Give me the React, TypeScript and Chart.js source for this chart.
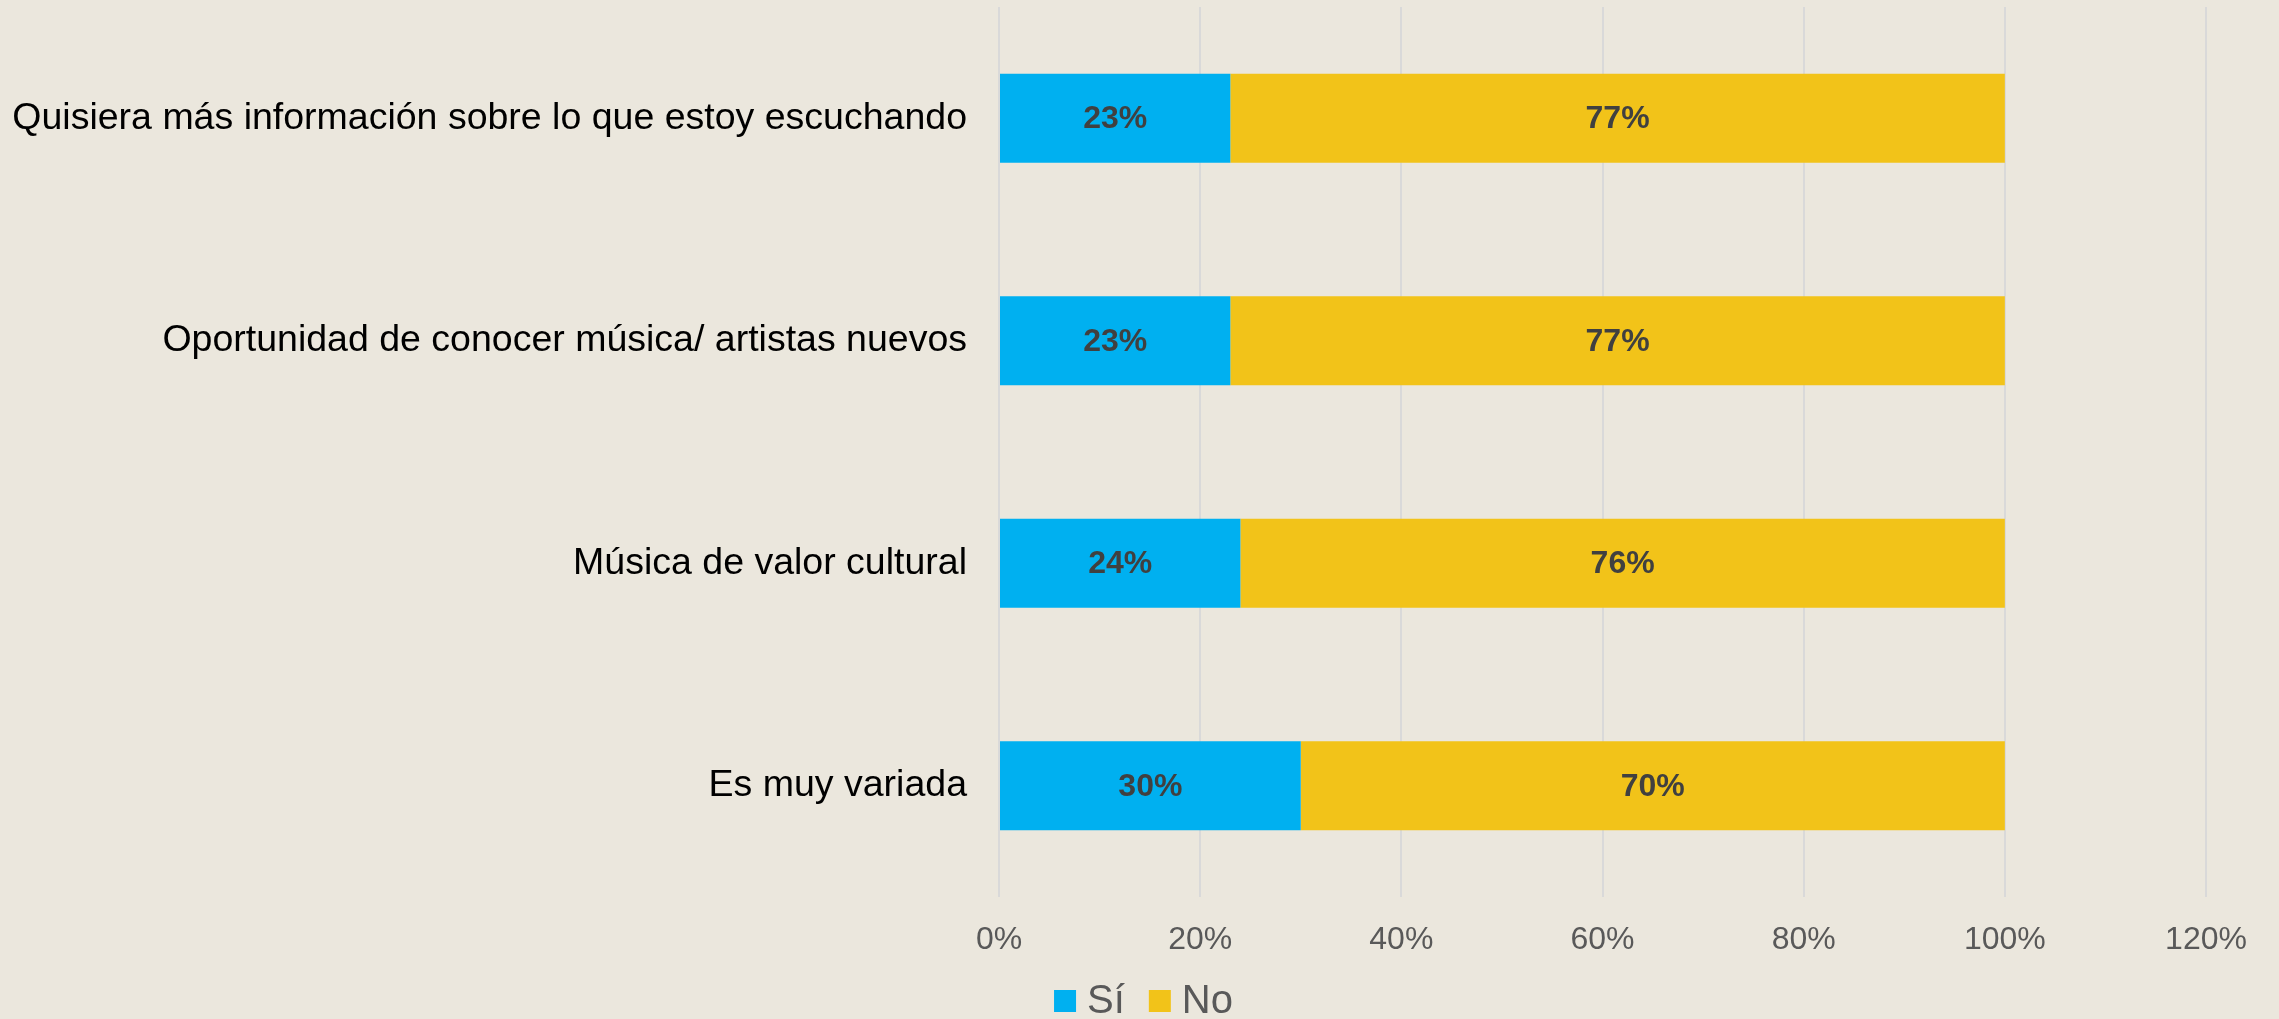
import React, { useEffect, useRef } from "react";
import { Chart, registerables } from "chart.js";

Chart.register(...registerables);

const categories = [
  "Quisiera más información sobre lo que estoy escuchando",
  "Oportunidad de conocer música/ artistas nuevos",
  "Música de valor cultural",
  "Es muy variada",
];
const siValues = [23, 23, 24, 30];
const noValues = [77, 77, 76, 70];
const seriesNames = ["Sí", "No"];
const xTicksMax = 120;

const BG = "#EBE7DD";
const FONT = "'Liberation Sans', Arial, sans-serif";

const dataLabelPlugin = {
  id: "dataLabels",
  afterDatasetsDraw(chart: any) {
    const ctx = chart.ctx;
    ctx.save();
    ctx.font = `bold 32px ${FONT}`;
    ctx.fillStyle = "#404040";
    ctx.textAlign = "center";
    ctx.textBaseline = "middle";
    chart.data.datasets.forEach((ds: any, di: number) => {
      const meta = chart.getDatasetMeta(di);
      meta.data.forEach((bar: any, i: number) => {
        const v = ds.data[i];
        const x = (bar.x + bar.base) / 2;
        ctx.fillText(`${v}%`, x, bar.y + 1);
      });
    });
    ctx.restore();
  },
};

const customLegendPlugin = {
  id: "customLegend",
  afterDraw(chart: any) {
    const ctx = chart.ctx;
    ctx.save();
    ctx.font = `40px ${FONT}`;
    const box = 22;
    const gap = 11;
    const itemGap = 24;
    const items = chart.data.datasets.map((ds: any) => ({
      label: ds.label,
      color: ds.backgroundColor,
      w: ctx.measureText(ds.label).width,
    }));
    let total = 0;
    items.forEach((it: any, i: number) => {
      total += box + gap + it.w + (i < items.length - 1 ? itemGap : 0);
    });
    const cy = 1001;
    let x = chart.width / 2 + 4 - total / 2;
    ctx.textBaseline = "middle";
    ctx.textAlign = "left";
    items.forEach((it: any) => {
      ctx.fillStyle = it.color;
      ctx.fillRect(x, cy - box / 2, box, box);
      x += box + gap;
      ctx.fillStyle = "#595959";
      ctx.fillText(it.label, x, cy + 1);
      x += it.w + itemGap;
    });
    ctx.restore();
  },
};

export default function App() {
  const ref = useRef<HTMLCanvasElement | null>(null);
  useEffect(() => {
    if (!ref.current) return;
    const chart = new Chart(ref.current, {
      type: "bar",
      data: {
        labels: categories,
        datasets: [
          {
            label: seriesNames[0],
            data: siValues,
            backgroundColor: "#00B0F0",
            borderWidth: 0,
            barPercentage: 0.4,
            categoryPercentage: 1,
          },
          {
            label: seriesNames[1],
            data: noValues,
            backgroundColor: "#F2C319",
            borderWidth: 0,
            barPercentage: 0.4,
            categoryPercentage: 1,
          },
        ],
      },
      options: {
        indexAxis: "y",
        animation: false,
        responsive: true,
        maintainAspectRatio: false,
        layout: { padding: { top: 7, right: 73, left: 0, bottom: 48 } },
        plugins: {
          legend: { display: false },
          tooltip: { enabled: false },
        },
        scales: {
          x: {
            stacked: true,
            min: 0,
            max: xTicksMax,
            ticks: {
              stepSize: 20,
              padding: 24,
              color: "#595959",
              font: { family: FONT, size: 32 },
              callback: (v: any) => `${v}%`,
            },
            grid: { color: "#D9D9D9", lineWidth: 2, drawTicks: false },
            border: { display: false },
            afterFit: (scale: any) => {
              scale.height = 74;
              scale.paddingLeft = 0;
              scale.paddingRight = 0;
            },
          },
          y: {
            stacked: true,
            ticks: {
              padding: 32,
              color: "#000000",
              font: { family: FONT, size: 37.5 },
            },
            grid: { display: false, drawTicks: false },
            border: { display: false },
            afterFit: (scale: any) => {
              scale.width = 999;
              scale.paddingTop = 0;
              scale.paddingBottom = 0;
            },
          },
        },
      },
      plugins: [dataLabelPlugin, customLegendPlugin],
    } as any);
    return () => chart.destroy();
  }, []);

  return (
    <div
      style={{
        position: "fixed",
        top: 0,
        left: 0,
        width: "2279px",
        height: "1019px",
        overflow: "hidden",
        background: BG,
      }}
    >
      <div style={{ position: "relative", width: "2279px", height: "1019px" }}>
        <canvas ref={ref} />
      </div>
    </div>
  );
}
